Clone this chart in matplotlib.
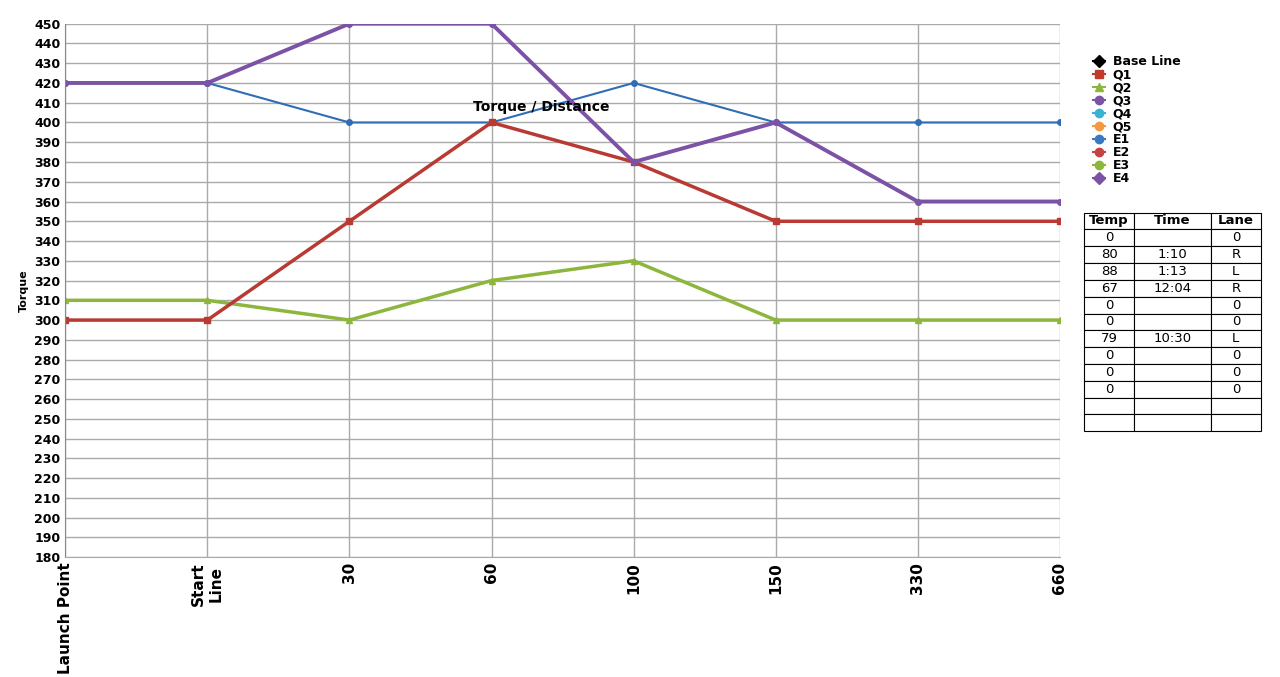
import matplotlib
matplotlib.use('agg')
import matplotlib.pyplot as plt
from matplotlib.lines import Line2D

CATEGORIES = ['Launch Point', 'Start\nLine', '30', '60', '100', '150', '330', '660']
E1 = [420, 420, 400, 400, 420, 400, 400, 400]
Q1 = [300, 300, 350, 400, 380, 350, 350, 350]
E3 = [310, 310, 300, 320, 330, 300, 300, 300]
Q3 = [420, 420, 450, 450, 380, 400, 360, 360]

LEGEND = [('Base Line', 'black', 'D'), ('Q1', '#c0392b', 's'), ('Q2', '#8cb63c', '^'),
          ('Q3', '#7b52a6', 'o'), ('Q4', '#3bb3d0', 'o'), ('Q5', '#f39a3c', 'o'),
          ('E1', '#3a78c2', 'o'), ('E2', '#c84040', 'o'), ('E3', '#8cb63c', 'o'),
          ('E4', '#7b52a6', 'D')]

TABLE = [['Temp', 'Time', 'Lane'], ['0', '', '0'], ['80', '1:10', 'R'], ['88', '1:13', 'L'],
         ['67', '12:04', 'R'], ['0', '', '0'], ['0', '', '0'], ['79', '10:30', 'L'],
         ['0', '', '0'], ['0', '', '0'], ['0', '', '0'], ['', '', ''], ['', '', '']]

fig = plt.figure(figsize=(12.8, 6.77), dpi=100)
ax = fig.add_axes([0.051, 0.177, 0.777, 0.788])
x = list(range(len(CATEGORIES)))

ax.plot(x, E1, color='#2f6db5', lw=1.5, marker='o', ms=4)
ax.plot(x, E3, color='#8cb63c', lw=2.5, marker='^', ms=4)
ax.plot(x, Q1, color='#b83a32', lw=2.5, marker='s', ms=4)
ax.plot(x, Q3, color='#7b52a6', lw=2.8, marker='o', ms=4)

ax.set_xlim(0, len(CATEGORIES) - 1)
ax.set_ylim(180, 450)
ax.set_yticks(range(180, 451, 10))
ax.set_xticks(x)
ax.set_xticklabels(CATEGORIES, rotation=90, fontsize=11, fontweight='bold', ha='center')
ax.tick_params(axis='y', labelsize=9, length=0)
ax.tick_params(axis='x', length=0)
for lbl in ax.get_yticklabels():
    lbl.set_fontweight('bold')
ax.grid(True, color='#aaaaaa', lw=1)
ax.set_axisbelow(True)
for s in ['top', 'right']:
    ax.spines[s].set_visible(False)
ax.spines['bottom'].set_color('#aaaaaa')
ax.spines['left'].set_color('#888888')
ax.set_ylabel('Torque', fontsize=8, fontweight='bold')
ax.text(3.35, 406, 'Torque / Distance', fontsize=10, fontweight='bold', ha='center')

handles = [Line2D([], [], color=c, marker=m, lw=1.5, ms=6) for _, c, m in LEGEND]
fig.legend(handles, [n for n, _, _ in LEGEND], loc='upper left', bbox_to_anchor=(0.845, 0.935),
           frameon=False, handlelength=1.0, handletextpad=0.6, labelspacing=0.0,
           prop={'weight': 'bold', 'size': 9})

tax = fig.add_axes([0.847, 0.363, 0.138, 0.323])
tax.axis('off')
tbl = tax.table(cellText=TABLE, bbox=[0, 0, 1, 1], cellLoc='center',
                colWidths=[50, 77, 50])
tbl.auto_set_font_size(False)
tbl.set_fontsize(9.5)
for (r, c), cell in tbl.get_celld().items():
    cell.set_linewidth(0.8)
    if r == 0:
        cell.get_text().set_fontweight('bold')

fig.savefig('out.png', dpi=100)
